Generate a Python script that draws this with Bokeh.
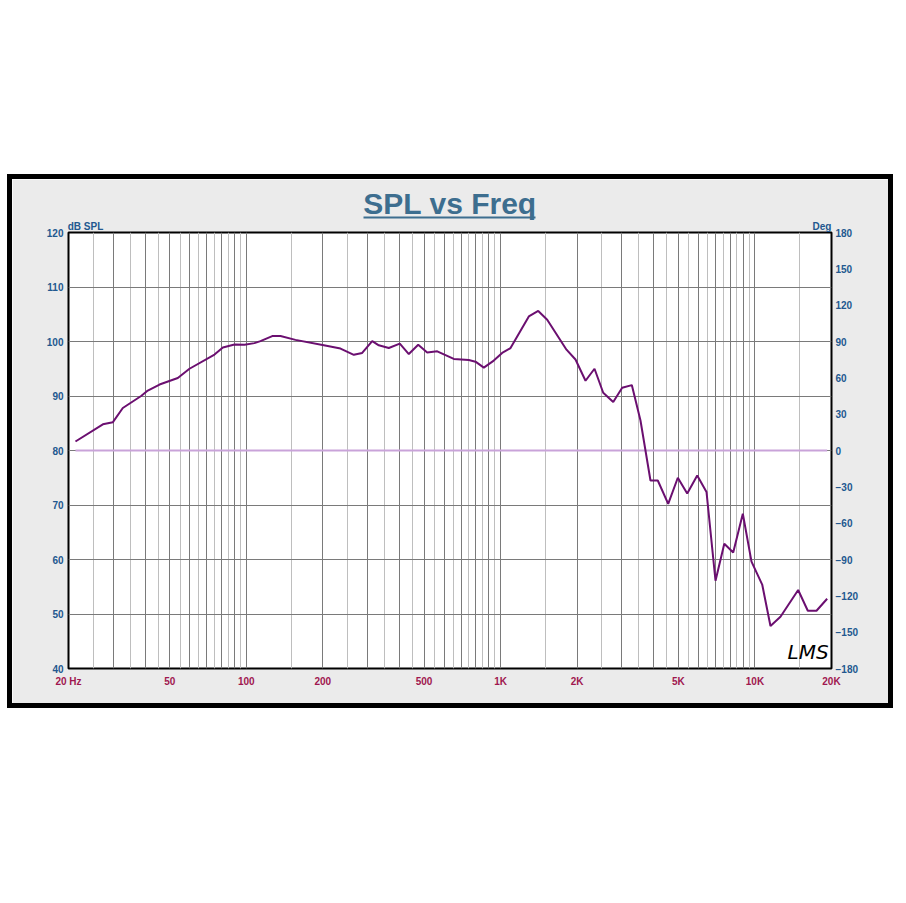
from bokeh.plotting import figure
from bokeh.models import Range1d, LinearAxis, FixedTicker, Label, Spacer, LinearScale
from bokeh.layouts import column, row
from bokeh.embed import file_html
from bokeh.resources import INLINE

# ---- data ----
freq_hz = [21.3, 27.3, 29.9, 32.7, 38.6, 41.0, 45.6, 53.8, 59.8, 75.0, 80.9, 89.9, 98.4, 107.7,
           113.7, 126.5, 136.3, 156.1, 201.8, 234.7, 264.8, 285.6, 312.8, 332, 363.4, 401.5,
           435.6, 474.3, 514.5, 563.5, 654.6, 749.8, 796.6, 859, 940, 1014, 1094, 1291, 1406,
           1525, 1816, 1970, 2157, 2340, 2532, 2772, 3006, 3280, 3548, 3884, 4150, 4560, 4975,
           5417, 5930, 6450, 6998, 7577, 8214, 8961, 9693, 10680, 11510, 12600, 14790, 16140,
           17460, 19230]
spl_db = [81.65, 84.8, 85.2, 87.8, 90.0, 91.0, 92.1, 93.3, 95.0, 97.6, 98.9, 99.45, 99.4, 99.7,
          100.06, 101.0, 101.0, 100.3, 99.3, 98.7, 97.56, 97.9, 100.06, 99.3, 98.8, 99.6,
          97.7, 99.4, 98.0, 98.2, 96.8, 96.6, 96.3, 95.2, 96.5, 97.9, 98.8, 104.6, 105.6,
          104.0, 98.5, 96.7, 92.8, 95.0, 90.6, 88.9, 91.5, 92.0, 85.5, 74.5, 74.5, 70.2, 75.0,
          72.1, 75.4, 72.4, 56.1, 62.9, 61.3, 68.4, 59.6, 55.4, 47.8, 49.5, 54.4, 50.6,
          50.6, 52.8]
phase_freq = [21.3, 19230]
phase_deg = [0, 0]

x_label_ticks = [20, 50, 100, 200, 500, 1000, 2000, 5000, 10000, 20000]
x_label_text = ["20 Hz", "50", "100", "200", "500", "1K", "2K", "5K", "10K", "20K"]
x_grid_major = [30, 40, 50, 60, 70, 80, 90, 100, 200, 300, 400, 500, 600, 700, 800, 900, 1000,
                2000, 3000, 4000, 5000, 6000, 7000, 8000, 9000, 10000]
x_grid_minor = [25, 35, 45, 55, 65, 75, 85, 95, 150, 250, 350, 450, 550, 650, 750, 850, 950,
                1500, 2500, 3500, 4500, 5500, 6500, 7500, 8500, 9500, 15000]
db_ticks = [40, 50, 60, 70, 80, 90, 100, 110, 120]
deg_ticks = [-180, -150, -120, -90, -60, -30, 0, 30, 60, 90, 120, 150, 180]

title_text = "SPL vs Freq"
captions = ["dB SPL", "Deg"]

BLUE = "#22588F"
MAROON = "#A0174F"
TITLE_C = "#3D6E8F"
PANEL = "#EBEBEB"
FONT = "Liberation Sans"

FRAME_W = 763
# pixel positions (within the plot frame width) for caption centres and the title underline
CAPTION_POS = [17, 753.5]
UNDERLINE = (295, 467)

p = figure(width=886, height=534, x_axis_type="log", title=title_text,
           x_range=Range1d(20, 20000), y_range=Range1d(40, 120),
           output_backend="svg", toolbar_location=None,
           min_border_left=56, min_border_right=67, min_border_top=53, min_border_bottom=45,
           background_fill_color="white", border_fill_color=PANEL)
p.extra_y_ranges = {"deg": Range1d(-180, 180)}
p.extra_x_ranges = {"px": Range1d(0, FRAME_W)}
p.extra_x_scales = {"px": LinearScale()}

p.title.align = "center"
p.title.text_font = FONT
p.title.text_font_style = "bold"
p.title.text_font_size = "30px"
p.title.text_color = TITLE_C
p.title.standoff = -4


def style_axis(ax, color, standoff, size="10px"):
    ax.major_tick_line_color = None
    ax.minor_tick_line_color = None
    ax.major_tick_out = 0
    ax.major_tick_in = 0
    ax.minor_tick_out = 0
    ax.minor_tick_in = 0
    ax.axis_line_color = None
    ax.major_label_text_font = FONT
    ax.major_label_text_font_style = "bold"
    ax.major_label_text_font_size = size
    ax.major_label_text_color = color
    ax.major_label_standoff = standoff


xa = p.xaxis[0]
xa.ticker = FixedTicker(ticks=x_label_ticks)
xa.major_label_overrides = {t: s for t, s in zip(x_label_ticks, x_label_text)}
style_axis(xa, MAROON, 7)

ya = p.yaxis[0]
ya.ticker = FixedTicker(ticks=db_ticks)
style_axis(ya, BLUE, 5)

ra = LinearAxis(y_range_name="deg", ticker=FixedTicker(ticks=deg_ticks))
style_axis(ra, BLUE, 4)
p.add_layout(ra, "right")

# captions above the frame ("dB SPL" left, "Deg" right)
cap = LinearAxis(x_range_name="px", ticker=FixedTicker(ticks=CAPTION_POS))
cap.major_label_overrides = {t: s for t, s in zip(CAPTION_POS, captions)}
style_axis(cap, BLUE, 1)
p.add_layout(cap, "above")

# title underline
ul = LinearAxis(x_range_name="px", ticker=FixedTicker(ticks=[]), bounds=UNDERLINE)
style_axis(ul, TITLE_C, 0)
ul.axis_line_color = TITLE_C
ul.axis_line_width = 2
p.add_layout(ul, "above")

p.xgrid.ticker = FixedTicker(ticks=x_grid_major, minor_ticks=x_grid_minor)
p.xgrid.grid_line_color = "#7A7A7A"
p.xgrid.minor_grid_line_color = "#BEBEBE"
p.ygrid.ticker = FixedTicker(ticks=db_ticks)
p.ygrid.grid_line_color = "#7A7A7A"

p.outline_line_color = "black"
p.outline_line_width = 2

p.line(phase_freq, phase_deg, y_range_name="deg", line_color="#C9A3D9", line_width=2)
p.line(freq_hz, spl_db, line_color="#6B0F70", line_width=2)

p.add_layout(Label(x=719, y=17, x_units="screen", y_units="screen", text="LMS",
                   text_align="left", text_baseline="alphabetic", text_font="DejaVu Sans",
                   text_font_style="italic", text_font_size="20px", text_color="black"))

p.styles = {"border": "5px solid black"}

layout = column(Spacer(width=10, height=174), row(Spacer(width=7, height=10), p))
open("out.html", "w").write(file_html(layout, INLINE))
